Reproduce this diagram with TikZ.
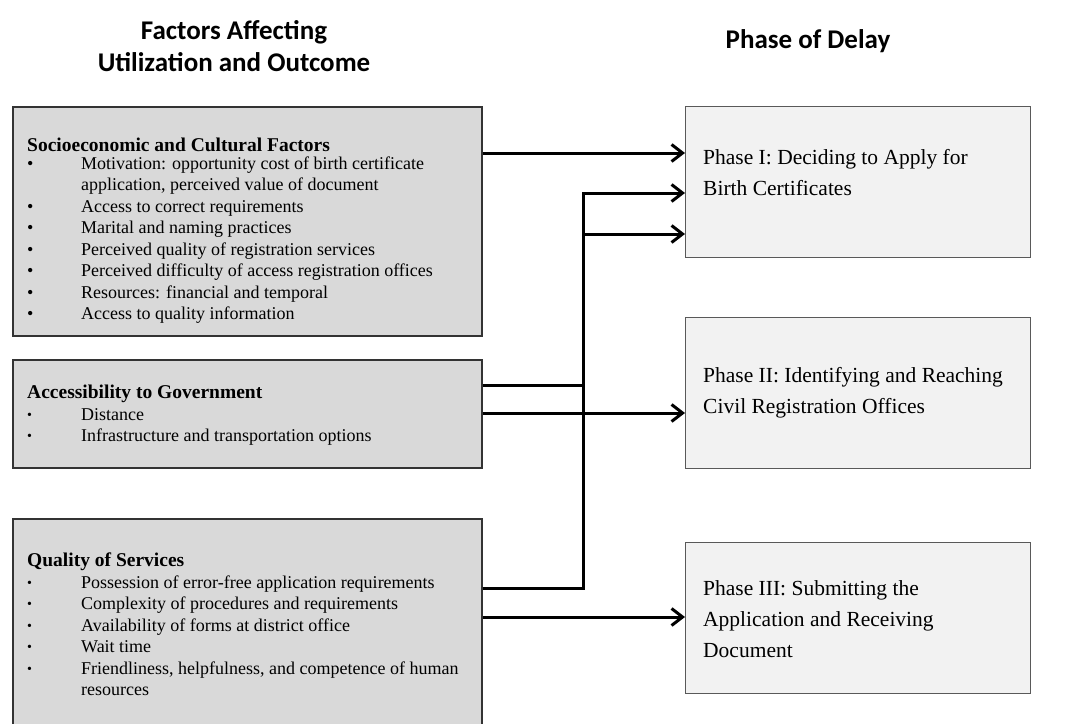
\documentclass[tikz,border=0pt]{standalone}
\usepackage{fontspec}
\setmainfont{Liberation Serif}
\newfontfamily\headfont{Carlito}
\usetikzlibrary{arrows.meta,positioning}

\begin{document}
\begin{tikzpicture}[x=1pt,y=-1pt,
    leftbox/.style={draw=black!80,line width=1.5pt,fill=black!15,minimum width=469pt,inner sep=0pt,anchor=north west},
    phasebox/.style={draw=black!65,line width=1.2pt,fill=black!5,minimum width=345pt,minimum height=151pt,inner sep=0pt,anchor=north west},
    body/.style={anchor=north west,inner sep=0pt,align=left,font=\fontsize{18}{21.5}\selectfont},
    ptext/.style={anchor=north west,inner sep=0pt,align=left,font=\fontsize{21.5}{31}\selectfont},
    head/.style={inner sep=0pt,align=center,font=\headfont\bfseries\fontsize{27}{32}\selectfont},
    arr/.style={line width=3pt,-{Straight Barb[length=11pt,width=17pt]}}]
    \def\bul{\makebox[54pt][l]{\textbullet}}
    \def\sbul{\makebox[54pt][l]{\raisebox{1pt}{\fontsize{14}{14}\selectfont\textbullet}}}
    \def\cont{\hspace*{54pt}}
    \def\ttl#1{{\fontsize{19.5}{21.5}\selectfont\bfseries #1}}
    \useasboundingbox (0,0) rectangle (1068,723);
    % titles
    \node[head] (hfac) at (234,46) {Factors Affecting\\Utilization and Outcome};
    \node[head] (hdel) at (808,41) {Phase of Delay};
    % boxes on the left
    \node[leftbox,minimum height=229pt] (socio) at (12,106) {};
    \node[leftbox,minimum height=108pt] (access) at (12,359) {};
    \node[leftbox,minimum height=230pt] (quality) at (12,518) {};
    \node[body] (sociotxt) at (27,138) {\ttl{Socioeconomic and Cultural Factors}\\[-4pt]
      \bul Motivation: opportunity cost of birth certificate\\
      \cont application, perceived value of document\\
      \bul Access to correct requirements\\
      \bul Marital and naming practices\\
      \bul Perceived quality of registration services\\
      \bul Perceived difficulty of access registration offices\\
      \bul Resources: financial and temporal\\
      \bul Access to quality information};
    \node[body] (accesstxt) at (27,385) {\ttl{Accessibility to Government}\\
      \sbul Distance\\
      \sbul Infrastructure and transportation options};
    \node[body] (qualitytxt) at (27,553) {\ttl{Quality of Services}\\
      \sbul Possession of error-free application requirements\\
      \sbul Complexity of procedures and requirements\\
      \sbul Availability of forms at district office\\
      \sbul Wait time\\
      \sbul Friendliness, helpfulness, and competence of human\\
      \cont resources};
    % phase boxes
    \node[phasebox] (p1) at (685,106) {};
    \node[phasebox] (p2) at (685,317) {};
    \node[phasebox] (p3) at (685,542) {};
    \node[ptext] (p1txt) at (703,149) {Phase I: Deciding to Apply for\\Birth Certificates};
    \node[ptext] (p2txt) at (703,367) {Phase II: Identifying and Reaching\\Civil Registration Offices};
    \node[ptext] (p3txt) at (703,580) {Phase III: Submitting the\\Application and Receiving\\Document};
    % arrows
    \coordinate (bus) at (583,0);
    \path (p1.north west) ++(0,87) coordinate (p1a) ++(0,41) coordinate (p1b);
    \path (socio.north east) ++(0,47) coordinate (s1);
    \path (access.north east) ++(0,26) coordinate (a1) ++(0,28) coordinate (a2);
    \path (quality.north east) ++(0,70) coordinate (q1) ++(0,29) coordinate (q2);
    \draw[arr] (s1) -- (s1 -| p1.west);
    \draw[arr] (a1) -| (bus |- p1a) -- (p1a);
    \draw[arr] (q1) -| (bus |- p1b) -- (p1b);
    \draw[arr] (a2) -- (a2 -| p2.west);
    \draw[arr] (q2) -- (q2 -| p3.west);
\end{tikzpicture}
\end{document}
